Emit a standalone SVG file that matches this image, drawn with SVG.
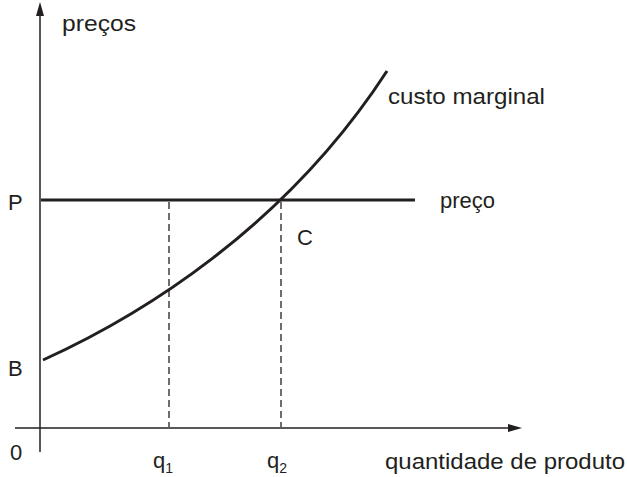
<svg xmlns="http://www.w3.org/2000/svg" width="627" height="477" viewBox="0 0 627 477">
<defs>
<style>
text{font-family:"Liberation Sans",Arial,sans-serif;font-size:22px;fill:#231f20}
.sub{font-size:14px}
.axis{stroke:#231f20;stroke-width:1.5;fill:none}
.thick{stroke:#231f20;stroke-width:3;fill:none}
.dash{stroke:#231f20;stroke-width:1.3;stroke-dasharray:7 4;fill:none}
</style>
</defs>
<rect width="627" height="477" fill="#fff"/>
<g id="connectors">
<line class="axis" x1="40" y1="452" x2="40" y2="14"/>
<polygon points="40,2 36,16 44,16" fill="#231f20"/>
<line class="axis" x1="15" y1="428" x2="510" y2="428"/>
<polygon points="522,428 508,424 508,432" fill="#231f20"/>
<line class="thick" x1="41" y1="200" x2="415" y2="200"/>
<line class="dash" x1="169" y1="202" x2="169" y2="427"/>
<line class="dash" x1="281" y1="202" x2="281" y2="427"/>
<path class="thick" d="M43,360 C140,316 285,228 387,71"/>
</g>
<g id="labels">
<text x="62" y="31" textLength="74" lengthAdjust="spacingAndGlyphs">preços</text>
<text x="388" y="104" textLength="157" lengthAdjust="spacingAndGlyphs">custo marginal</text>
<text x="8" y="210">P</text>
<text x="440" y="208">preço</text>
<text x="297" y="245">C</text>
<text x="8" y="376">B</text>
<text x="10" y="460">0</text>
<text x="153" y="468">q<tspan class="sub" dy="5">1</tspan></text>
<text x="267" y="468">q<tspan class="sub" dy="5">2</tspan></text>
<text x="385" y="469" textLength="240" lengthAdjust="spacingAndGlyphs">quantidade de produto</text>
</g>
</svg>
